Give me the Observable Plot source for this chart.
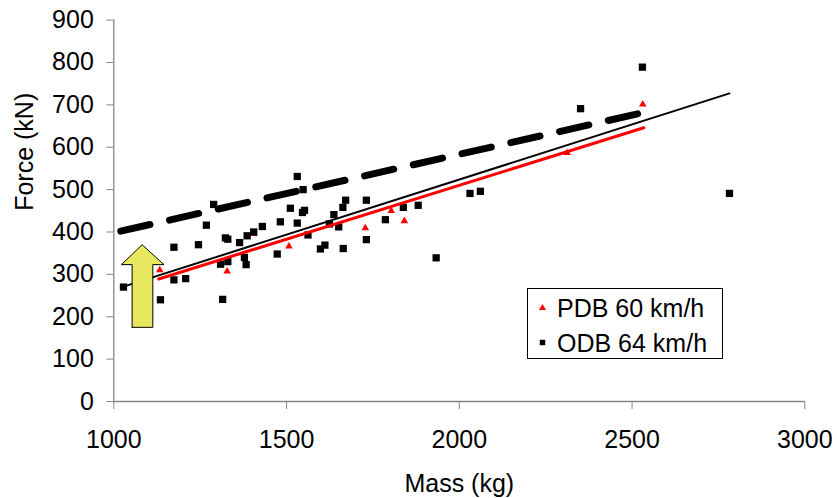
<!DOCTYPE html>
<html>
<head>
<meta charset="utf-8">
<script src="https://cdn.jsdelivr.net/npm/d3@7"></script>
<script src="https://cdn.jsdelivr.net/npm/@observablehq/plot@0.6"></script>
<style>
  html, body { margin: 0; padding: 0; background: #fff; }
  #wrap { position: relative; width: 837px; height: 498px; font-family: "Liberation Sans", Arial, sans-serif; }
  #legend { position: absolute; left: 527px; top: 288px; }
</style>
</head>
<body>
<div id="wrap"><div id="chart"></div><div id="legend"></div></div>
<script>
// ODB 64 km/h test points (mass kg, force kN)
const odbMass  = [1028,1135,1174,1208,1174,1245,1268,1289,1315,1309,1330,1323,1330,1364,1378,1383,1386,1405,1430,1473,1482,1511,1531,1531,1548,1546,1552,1562,1598,1611,1624,1637,1651,1664,1663,1671,1731,1731,1786,1838,1881,1933,2031,2061,2351,2530,2782];
const odbForce = [ 270, 240, 287, 290, 364, 370, 416, 465, 241, 324, 330, 386, 383, 375, 340, 323, 391, 400, 413, 348, 424, 456, 531, 421, 500, 446, 451, 393, 360, 369, 419, 441, 412, 361, 458, 475, 475, 382, 429, 458, 463, 339, 491, 496, 691, 789, 491];

// PDB 60 km/h test points
const pdbMass  = [1133,1328,1405,1507,1728,1803,1841,2312,2531];
const pdbForce = [ 310, 307, 396, 366, 409, 450, 426, 587, 701];

// Trend lines (end points)
const odbTrendMass  = [1028, 2782];
const odbTrendForce = [ 271,  727];
const pdbTrendMass  = [1130, 2534];
const pdbTrendForce = [ 289,  646];
const dashTrendMass  = [1020, 2550];
const dashTrendForce = [ 402,  685];

// Block arrow annotation outline (data units)
const arrowMass  = [1053, 1113, 1113, 1145, 1082, 1022, 1053, 1053];
const arrowForce = [ 175,  175,  323,  323,  370,  323,  323,  175];

const xTicks = [1000, 1500, 2000, 2500, 3000];
const yTicks = [0, 100, 200, 300, 400, 500, 600, 700, 800, 900];
const xTitle = "Mass (kg)";
const yTitle = "Force (kN)";
const legendLabels = ["PDB 60 km/h", "ODB 64 km/h"];

const zip = (ms, fs) => ms.map((m, i) => ({mass: m, force: fs[i]}));
const odb = zip(odbMass, odbForce);
const pdb = zip(pdbMass, pdbForce);
const odbTrend = zip(odbTrendMass, odbTrendForce);
const pdbTrend = zip(pdbTrendMass, pdbTrendForce);
const dashTrend = zip(dashTrendMass, dashTrendForce);
const arrow = zip(arrowMass, arrowForce);

const font = '"Liberation Sans", Arial, sans-serif';
const axisGray = "#868686";
const plain = d => String(d);

const chart = Plot.plot({
  width: 837,
  height: 498,
  marginLeft: 113.3,
  marginRight: 32.7,
  marginTop: 19.6,
  marginBottom: 97,
  x: {domain: [1000, 3000]},
  y: {domain: [0, 900]},
  style: {fontFamily: font, fontSize: "25px", background: "white", color: "black", overflow: "visible"},
  marks: [
    Plot.ruleY([0], {stroke: axisGray, strokeWidth: 1.3}),
    Plot.ruleX([1000], {stroke: axisGray, strokeWidth: 1.3}),
    Plot.axisX(xTicks, {tickSize: 8, tickPadding: 21, stroke: axisGray, fill: "black", label: null, fontSize: 25, tickFormat: plain}),
    Plot.axisY(yTicks, {tickSize: 7, tickPadding: 13, stroke: axisGray, fill: "black", label: null, fontSize: 25, tickFormat: plain}),
    Plot.dot(pdb, {x: "mass", y: "force", symbol: "triangle", r: 2.8, fill: "#ff0000"}),
    Plot.dot(odb, {x: "mass", y: "force", symbol: "square", r: 4.1, fill: "black"}),
    Plot.line(odbTrend, {x: "mass", y: "force", stroke: "black", strokeWidth: 2}),
    Plot.line(pdbTrend, {x: "mass", y: "force", stroke: "#ff0000", strokeWidth: 3}),
    Plot.line(dashTrend, {x: "mass", y: "force", stroke: "black", strokeWidth: 7, strokeDasharray: "30,20"}),
    Plot.line(arrow, {x: "mass", y: "force", fill: "#e8e860", stroke: "black", strokeWidth: 1}),
    Plot.text([xTitle], {frameAnchor: "bottom", dy: 82.7, lineAnchor: "middle", fontSize: 25, fill: "black"}),
    Plot.text([yTitle], {frameAnchor: "left", rotate: -90, dx: -89, lineAnchor: "middle", fontSize: 25, fill: "black"})
  ]
});
document.getElementById("chart").appendChild(chart);

// Legend box
const lg = d3.select("#legend").append("svg")
  .attr("width", 196).attr("height", 72)
  .style("font-family", font).style("font-size", "25px");
lg.append("rect").attr("x", 0.5).attr("y", 0.5).attr("width", 195).attr("height", 70)
  .attr("fill", "white").attr("stroke", "black").attr("stroke-width", 1);
const tri = d3.symbol(d3.symbolTriangle, 22)();
const sq = d3.symbol(d3.symbolSquare, 30)();
lg.append("path").attr("d", tri).attr("fill", "#ff0000").attr("transform", "translate(15.5,20)");
lg.append("path").attr("d", sq).attr("fill", "black").attr("transform", "translate(15.5,54.5)");
lg.append("text").attr("x", 30).attr("y", 29.3).text(legendLabels[0]);
lg.append("text").attr("x", 30).attr("y", 64.3).text(legendLabels[1]);
</script>
</body>
</html>
